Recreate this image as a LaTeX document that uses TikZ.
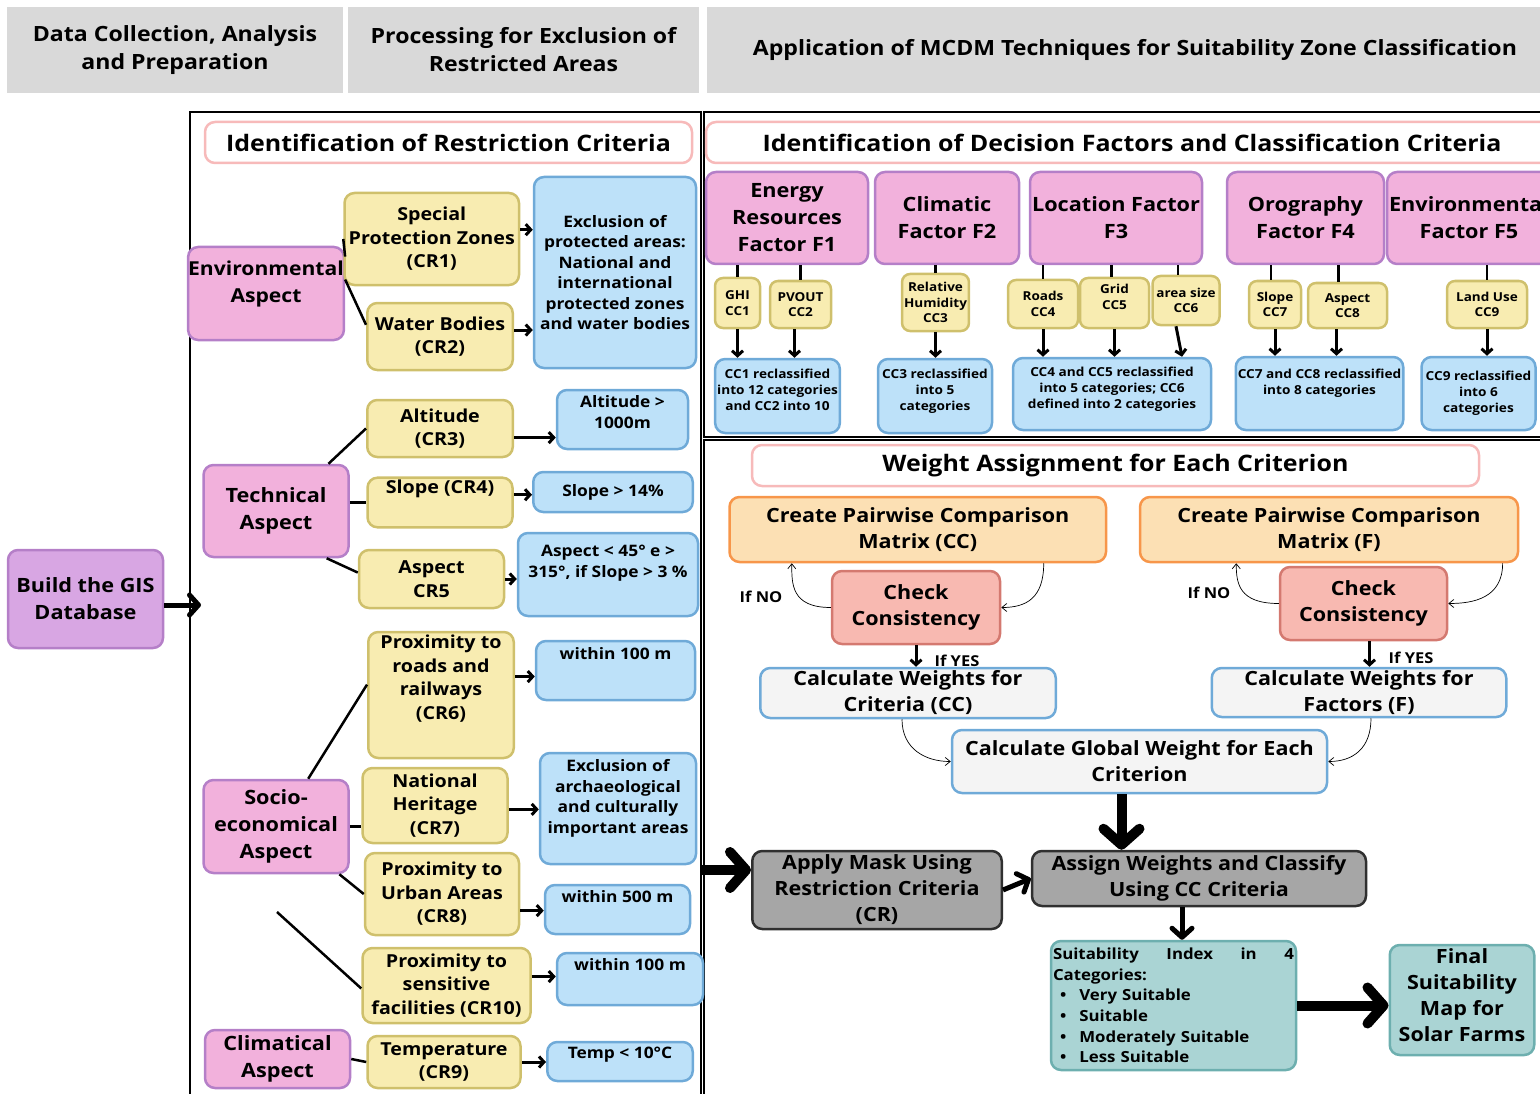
\documentclass[tikz,border=0pt]{standalone}
\usepackage{fontspec}
\setmainfont{Open Sans}[FakeStretch=1.1]
\usetikzlibrary{arrows.meta}
\newlength{\du}
\setlength{\du}{1pt}
\definecolor{headfillcolor}{rgb}{0.851, 0.851, 0.851}
\definecolor{titlelinecolor}{rgb}{0.969, 0.729, 0.729}
\definecolor{aspectfillcolor}{rgb}{0.949, 0.694, 0.863}
\definecolor{aspectlinecolor}{rgb}{0.710, 0.498, 0.784}
\definecolor{gisfillcolor}{rgb}{0.847, 0.651, 0.890}
\definecolor{critfillcolor}{rgb}{0.973, 0.925, 0.694}
\definecolor{critlinecolor}{rgb}{0.812, 0.753, 0.424}
\definecolor{rulefillcolor}{rgb}{0.741, 0.882, 0.976}
\definecolor{rulelinecolor}{rgb}{0.435, 0.667, 0.847}
\definecolor{pairfillcolor}{rgb}{0.988, 0.878, 0.706}
\definecolor{pairlinecolor}{rgb}{0.969, 0.588, 0.290}
\definecolor{checkfillcolor}{rgb}{0.973, 0.725, 0.694}
\definecolor{checklinecolor}{rgb}{0.831, 0.475, 0.439}
\definecolor{calcfillcolor}{rgb}{0.957, 0.957, 0.957}
\definecolor{maskfillcolor}{rgb}{0.651, 0.651, 0.651}
\definecolor{masklinecolor}{rgb}{0.188, 0.188, 0.188}
\definecolor{suitfillcolor}{rgb}{0.667, 0.831, 0.831}
\definecolor{suitlinecolor}{rgb}{0.427, 0.686, 0.686}
\newcommand{\headfont}{\fontsize{21}{28}\selectfont\bfseries}
\newcommand{\titlefont}{\fontsize{22.7}{26}\selectfont\bfseries}
\newcommand{\aspectfont}{\fontsize{19.7}{27}\selectfont\bfseries}
\newcommand{\critfont}{\fontsize{17.9}{23.5}\selectfont\bfseries}
\newcommand{\rulefont}{\fontsize{15.8}{20.5}\selectfont\bfseries}
\newcommand{\ccfont}{\fontsize{12.3}{15.5}\selectfont\bfseries}
\newcommand{\resfont}{\fontsize{12.4}{16}\selectfont\bfseries}
\newcommand{\stepfont}{\fontsize{19.6}{26}\selectfont\bfseries}
\newcommand{\suitfont}{\fontsize{15.3}{20.6}\selectfont\bfseries}
\newcommand{\notefont}{\fontsize{15}{16}\selectfont\bfseries}

\begin{document}
\begin{tikzpicture}[
  box/.style={rounded corners=10\du, line width=2.5\du, align=center, inner sep=2\du},
  headbox/.style={fill=headfillcolor, align=center, font=\headfont},
  titlebox/.style={box, draw=titlelinecolor, fill=white, font=\titlefont},
  aspectbox/.style={box, draw=aspectlinecolor, fill=aspectfillcolor, font=\aspectfont},
  critbox/.style={box, draw=critlinecolor, fill=critfillcolor, font=\critfont},
  rulebox/.style={box, draw=rulelinecolor, fill=rulefillcolor, font=\rulefont},
  ccbox/.style={critbox, rounded corners=8\du, font=\ccfont},
  resbox/.style={rulebox, font=\resfont},
  pairbox/.style={box, draw=pairlinecolor, fill=pairfillcolor, font=\stepfont},
  checkbox/.style={box, draw=checklinecolor, fill=checkfillcolor, font=\stepfont},
  calcbox/.style={box, draw=rulelinecolor, fill=calcfillcolor, font=\stepfont},
  maskbox/.style={box, draw=masklinecolor, fill=maskfillcolor, font=\stepfont},
  suitbox/.style={box, draw=suitlinecolor, fill=suitfillcolor},
  frameline/.style={line width=2\du},
  link/.style={line width=2.5\du},
  arr/.style={line width=3\du, -{Straight Barb[length=5pt, width=11pt]}},
  thinarr/.style={line width=0.7\du, -{Straight Barb[length=5pt, width=8pt]}},
  midarr/.style={line width=5\du, -{Straight Barb[length=9pt, width=20pt, round]}},
  bigarr/.style={line width=10\du, -{Straight Barb[length=16pt, width=36pt, round]}}
]
\pgftransformyscale{-1.000000}
\useasboundingbox (0\du,0\du) rectangle (1540\du,1094\du);
% headers
\node[headbox, minimum width=336\du, minimum height=86\du] (hdata) at (175\du,50\du) {Data Collection, Analysis\\and Preparation};
\node[headbox, minimum width=351\du, minimum height=86\du] (hproc) at (523.5\du,50\du) {Processing for Exclusion of\\Restricted Areas};
\node[headbox, minimum width=856\du, minimum height=86\du] (hmcdm) at (1135\du,50\du) {Application of MCDM Techniques for Suitability Zone Classification};
% frames
\draw[frameline] (190\du,112\du) rectangle (701\du,1110\du);
\draw[frameline] (704\du,112\du) rectangle (1560\du,437\du);
\draw[frameline] (704\du,440\du) rectangle (1560\du,1110\du);
\node[titlebox, minimum width=487\du, minimum height=41\du] (trestr) at (448.5\du,142.5\du) {Identification of Restriction Criteria};
\node[titlebox, minimum width=852\du, minimum height=41\du] (tfact) at (1132\du,142.5\du) {Identification of Decision Factors and Classification Criteria};
\node[titlebox, minimum width=727\du, minimum height=41\du] (tweight) at (1115.5\du,465.5\du) {Weight Assignment for Each Criterion};
% database
\node[aspectbox, fill=gisfillcolor, minimum width=155\du, minimum height=98\du] (gis) at (85.5\du,599\du) {Build the GIS\\Database};
\coordinate (lframe) at (201\du,605\du);
% restriction criteria
\node[aspectbox, font=\fontsize{19.2}{27}\selectfont\bfseries, inner xsep=0\du, text depth=24\du, minimum width=152\du, minimum height=93\du] (env) at (266\du,293.5\du) {Environmental\\Aspect};
\node[aspectbox, minimum width=145\du, minimum height=92\du] (tech) at (276\du,511\du) {Technical\\Aspect};
\node[aspectbox, minimum width=145\du, minimum height=93\du] (soc) at (276\du,826.5\du) {Socio-\\economical\\Aspect};
\node[aspectbox, minimum width=145\du, minimum height=58\du] (clim) at (277.5\du,1059\du) {Climatical\\Aspect};
\node[critbox, minimum width=174.5\du, minimum height=92\du] (cr1) at (431.75\du,239\du) {Special\\Protection Zones\\(CR1)};
\node[critbox, minimum width=145.5\du, minimum height=67\du] (cr2) at (440\du,336.5\du) {Water Bodies\\(CR2)};
\node[critbox, minimum width=145.5\du, minimum height=57\du] (cr3) at (440\du,428.5\du) {Altitude\\(CR3)};
\node[critbox, text depth=32\du, minimum width=145\du, minimum height=49\du] (cr4) at (440\du,502.5\du) {Slope (CR4)};
\node[critbox, minimum width=145\du, minimum height=58\du] (cr5) at (431.5\du,579\du) {Aspect\\CR5};
\node[critbox, text depth=36\du, minimum width=145.5\du, minimum height=126\du] (cr6) at (441\du,695\du) {Proximity to\\roads and\\railways\\(CR6)};
\node[critbox, minimum width=145\du, minimum height=75\du] (cr7) at (435\du,805.5\du) {National\\Heritage\\(CR7)};
\node[critbox, minimum width=154\du, minimum height=82\du] (cr8) at (442\du,894\du) {Proximity to\\Urban Areas\\(CR8)};
\node[critbox, minimum width=168\du, minimum height=75\du] (cr10) at (446.5\du,985.5\du) {Proximity to\\sensitive\\facilities (CR10)};
\node[critbox, minimum width=153\du, minimum height=52\du] (cr9) at (444\du,1062\du) {Temperature\\(CR9)};
\node[rulebox, minimum width=162\du, minimum height=191\du] (excl) at (615\du,272.5\du) {Exclusion of\\protected areas:\\National and\\international\\protected zones\\and water bodies};
\node[rulebox, text depth=15\du, minimum width=131\du, minimum height=59\du] (alt) at (622.5\du,419.5\du) {Altitude >\\1000m};
\node[rulebox, minimum width=159.5\du, minimum height=40\du] (slp) at (613\du,492\du) {Slope > 14\%};
\node[rulebox, text depth=26\du, minimum width=180\du, minimum height=83\du] (asp) at (608\du,574.5\du) {Aspect < 45° e >\\315°, if Slope > 3 \%};
\node[rulebox, text depth=34\du, minimum width=159\du, minimum height=59\du] (road) at (615.5\du,670.5\du) {within 100 m};
\node[rulebox, text depth=24\du, minimum width=156\du, minimum height=111\du] (arch) at (618\du,808.5\du) {Exclusion of\\archaeological\\and culturally\\important areas};
\node[rulebox, text depth=26\du, minimum width=145\du, minimum height=49\du] (urban) at (617.5\du,909.5\du) {within 500 m};
\node[rulebox, text depth=29\du, minimum width=146\du, minimum height=52\du] (sens) at (630\du,979\du) {within 100 m};
\node[rulebox, text depth=18\du, minimum width=145.5\du, minimum height=39\du] (temp) at (620\du,1061.5\du) {Temp < 10°C};
\coordinate (loose) at (277\du,912\du);
% decision factors
\node[aspectbox, minimum width=162\du, minimum height=92\du] (f1) at (787\du,218\du) {Energy\\Resources\\Factor F1};
\node[aspectbox, minimum width=144\du, minimum height=92\du] (f2) at (947\du,218\du) {Climatic\\Factor F2};
\node[aspectbox, minimum width=168\du, minimum height=92\du] (f3) at (1116\du,218\du) {Location Factor\\F3};
\node[aspectbox, minimum width=157\du, minimum height=92\du] (f4) at (1305.5\du,218\du) {Orography\\Factor F4};
\node[aspectbox, minimum width=158\du, minimum height=92\du] (f5) at (1469\du,218\du) {Environmental\\Factor F5};
\node[ccbox, minimum width=45\du, minimum height=50\du] (cc1) at (737.5\du,303\du) {GHI\\CC1};
\node[ccbox, minimum width=61\du, minimum height=47\du] (cc2) at (800.5\du,304.5\du) {PVOUT\\CC2};
\node[ccbox, minimum width=65\du, minimum height=57\du] (cc3) at (935.5\du,302.5\du) {Relative\\Humidity\\CC3};
\node[ccbox, minimum width=70\du, minimum height=48\du] (cc4) at (1043\du,304\du) {Roads\\CC4};
\node[ccbox, text depth=12\du, minimum width=69\du, minimum height=50\du] (cc5) at (1114.5\du,303\du) {Grid\\CC5};
\node[ccbox, minimum width=67\du, minimum height=49\du] (cc6) at (1186\du,300.5\du) {area size\\CC6};
\node[ccbox, minimum width=52\du, minimum height=47\du] (cc7) at (1275\du,304.5\du) {Slope\\CC7};
\node[ccbox, minimum width=79\du, minimum height=45\du] (cc8) at (1347.5\du,305.5\du) {Aspect\\CC8};
\node[ccbox, minimum width=80\du, minimum height=47\du] (cc9) at (1487\du,304.5\du) {Land Use\\CC9};
\node[resbox, text depth=13\du, minimum width=121\du, minimum height=74\du] (res1) at (777.5\du,396\du) {CC1 reclassified\\into 12 categories\\and CC2 into 10};
\node[resbox, text depth=13\du, minimum width=114\du, minimum height=74\du] (res2) at (935\du,396\du) {CC3 reclassified\\into 5\\categories};
\node[resbox, text depth=13\du, minimum width=198\du, minimum height=72\du] (res3) at (1112\du,394\du) {CC4 and CC5 reclassified\\into 5 categories; CC6\\defined into 2 categories};
\node[resbox, text depth=24\du, minimum width=165\du, minimum height=73\du] (res4) at (1319.5\du,393.5\du) {CC7 and CC8 reclassified\\into 8 categories};
\node[resbox, minimum width=114\du, minimum height=73\du] (res5) at (1478.5\du,393.5\du) {CC9 reclassified\\into 6\\categories};
% weights
\node[pairbox, minimum width=376.5\du, minimum height=65\du] (pcc) at (917.75\du,529.5\du) {Create Pairwise Comparison\\Matrix (CC)};
\node[pairbox, minimum width=378\du, minimum height=65\du] (pf) at (1329\du,529.5\du) {Create Pairwise Comparison\\Matrix (F)};
\node[checkbox, minimum width=168\du, minimum height=73\du] (chk1) at (916\du,607.5\du) {Check\\Consistency};
\node[checkbox, minimum width=167\du, minimum height=73\du] (chk2) at (1363.5\du,603.5\du) {Check\\Consistency};
\node[calcbox, minimum width=295.5\du, minimum height=50\du] (cw1) at (908\du,693\du) {Calculate Weights for\\Criteria (CC)};
\node[calcbox, minimum width=294.5\du, minimum height=49\du] (cw2) at (1359\du,692.5\du) {Calculate Weights for\\Factors (F)};
\node[calcbox, minimum width=375\du, minimum height=63\du] (glob) at (1139.5\du,761.5\du) {Calculate Global Weight for Each\\Criterion};
\node[maskbox, minimum width=249.5\du, minimum height=78\du] (mask) at (877\du,890\du) {Apply Mask Using\\Restriction Criteria\\(CR)};
\node[maskbox, minimum width=334\du, minimum height=55\du] (assign) at (1199\du,878.5\du) {Assign Weights and Classify\\Using CC Criteria};
\node[suitbox, font=\suitfont, text width=241\du, align=left, minimum height=129\du] (suit) at (1173.5\du,1005.5\du) {Suitability\hfill Index\hfill in\hfill 4\\Categories:\\\hspace*{7\du}\textbullet\hspace{13\du}Very Suitable\\\hspace*{7\du}\textbullet\hspace{13\du}Suitable\\\hspace*{7\du}\textbullet\hspace{13\du}Moderately Suitable\\\hspace*{7\du}\textbullet\hspace{13\du}Less Suitable};
\node[suitbox, font=\stepfont, text depth=10\du, minimum width=144.5\du, minimum height=110\du] (final) at (1462\du,1000\du) {Final\\Suitability\\Map for\\Solar Farms};
\node[font=\notefont] (no1) at (761\du,597\du) {If NO};
\node[font=\notefont] (no2) at (1209\du,593\du) {If NO};
\node[font=\notefont] (yes1) at (957\du,661\du) {If YES};
\node[font=\notefont] (yes2) at (1411\du,658\du) {If YES};
\coordinate (rpanel) at (701\du,870\du);
% connectors, restriction side
\draw[midarr] (gis.east |- lframe) -- (lframe);
\draw[link] (env.25) -- (cr1.west);
\draw[link] (env.10) -- (cr2.171);
\draw[link] (tech.42) -- (cr3.west);
\draw[link] (cr4.west -| tech.east) -- (cr4.west);
\draw[link] (tech.-43) -- (cr5.175);
\draw[link] (soc.56) -- (cr6.172);
\draw[link] (soc.east) -- (soc.east -| cr7.west);
\draw[link] (soc.-37) -- (cr8.west);
\draw[link] (loose) -- (cr10.182);
\draw[link] (clim.east) -- (cr9.west);
\draw[arr] (cr1.6) -- (cr1.6 -| excl.west);
\draw[arr] (cr2.5) -- (cr2.5 -| excl.west);
\draw[arr] (cr3.-7) -- (cr3.-7 -| alt.west);
\draw[arr] (cr4.6) -- (cr4.6 -| slp.west);
\draw[arr] (cr5.east) -- (cr5.east -| asp.west);
\draw[arr] (cr6.14) -- (cr6.14 -| road.west);
\draw[arr] (cr7.-3) -- (cr7.-3 -| arch.west);
\draw[arr] (cr8.-12) -- (cr8.-12 -| urban.west);
\draw[arr] (cr10.6) -- (cr10.6 -| sens.west);
\draw[arr] (cr9.east) -- (cr9.east -| temp.west);
% connectors, factor side
\draw[link] (cc1.north |- f1.south) -- (cc1.north);
\draw[link] (cc2.north |- f1.south) -- (cc2.north);
\draw[link] (cc3.north |- f2.south) -- (cc3.north);
\draw[link] (cc4.north |- f3.south) -- (cc4.north);
\draw[link] ([xshift=-3\du]cc5.north |- f3.south) -- ([xshift=-3\du]cc5.north);
\draw[link] ([xshift=-8\du]cc6.north |- f3.south) -- ([xshift=-8\du]cc6.north);
\draw[link] ([xshift=-4\du]cc7.north |- f4.south) -- ([xshift=-4\du]cc7.north);
\draw[link] ([xshift=-9\du]cc8.north |- f4.south) -- ([xshift=-9\du]cc8.north);
\draw[link] (cc9.north |- f5.south) -- (cc9.north);
\draw[arr] (cc1.south) -- (cc1.south |- res1.north);
\draw[arr] ([xshift=-6\du]cc2.south) -- ([xshift=-6\du]cc2.south |- res1.north);
\draw[arr] (cc3.south) -- (cc3.south |- res2.north);
\draw[arr] (cc4.south) -- (cc4.south |- res3.north);
\draw[arr] (cc5.south) -- (cc5.south |- res3.north);
\draw[arr] ([xshift=-10\du]cc6.south) -- ([xshift=-4\du]cc6.south |- res3.north);
\draw[arr] (cc7.south) -- (cc7.south |- res4.north);
\draw[arr] ([xshift=-11\du]cc8.south) -- ([xshift=-11\du]cc8.south |- res4.north);
\draw[arr] (cc9.south) -- (cc9.south |- res5.north);
% connectors, weights
\draw[thinarr] (chk1.west) .. controls +(-40\du,0\du) and +(0\du,20\du) .. (pcc.195);
\draw[thinarr] (pcc.-15) .. controls +(0\du,35\du) and +(25\du,0\du) .. (chk1.east);
\draw[thinarr] (chk2.west) .. controls +(-40\du,0\du) and +(0\du,20\du) .. (pf.200);
\draw[thinarr] (pf.-11) .. controls +(0\du,35\du) and +(25\du,0\du) .. (chk2.east);
\draw[arr] (chk1.south) -- (chk1.south |- cw1.north);
\draw[arr] ([xshift=6\du]chk2.south) -- ([xshift=6\du]chk2.south |- cw2.north);
\draw[thinarr] ([xshift=-6\du]cw1.south) .. controls +(0\du,30\du) and +(-25\du,0\du) .. (glob.west);
\draw[thinarr] ([xshift=12\du]cw2.south) .. controls +(0\du,30\du) and +(25\du,0\du) .. (glob.east);
\draw[bigarr] ([xshift=-18\du]glob.south) -- ([xshift=-18\du]glob.south |- assign.north);
\draw[bigarr] (rpanel) -- (rpanel -| mask.west);
\draw[midarr] (mask.east) -- (assign.west);
\draw[midarr] ([xshift=-17\du]assign.south) -- ([xshift=-17\du]assign.south |- suit.north);
\draw[bigarr] (suit.east) -- (suit.east -| final.west);
\end{tikzpicture}
\end{document}
